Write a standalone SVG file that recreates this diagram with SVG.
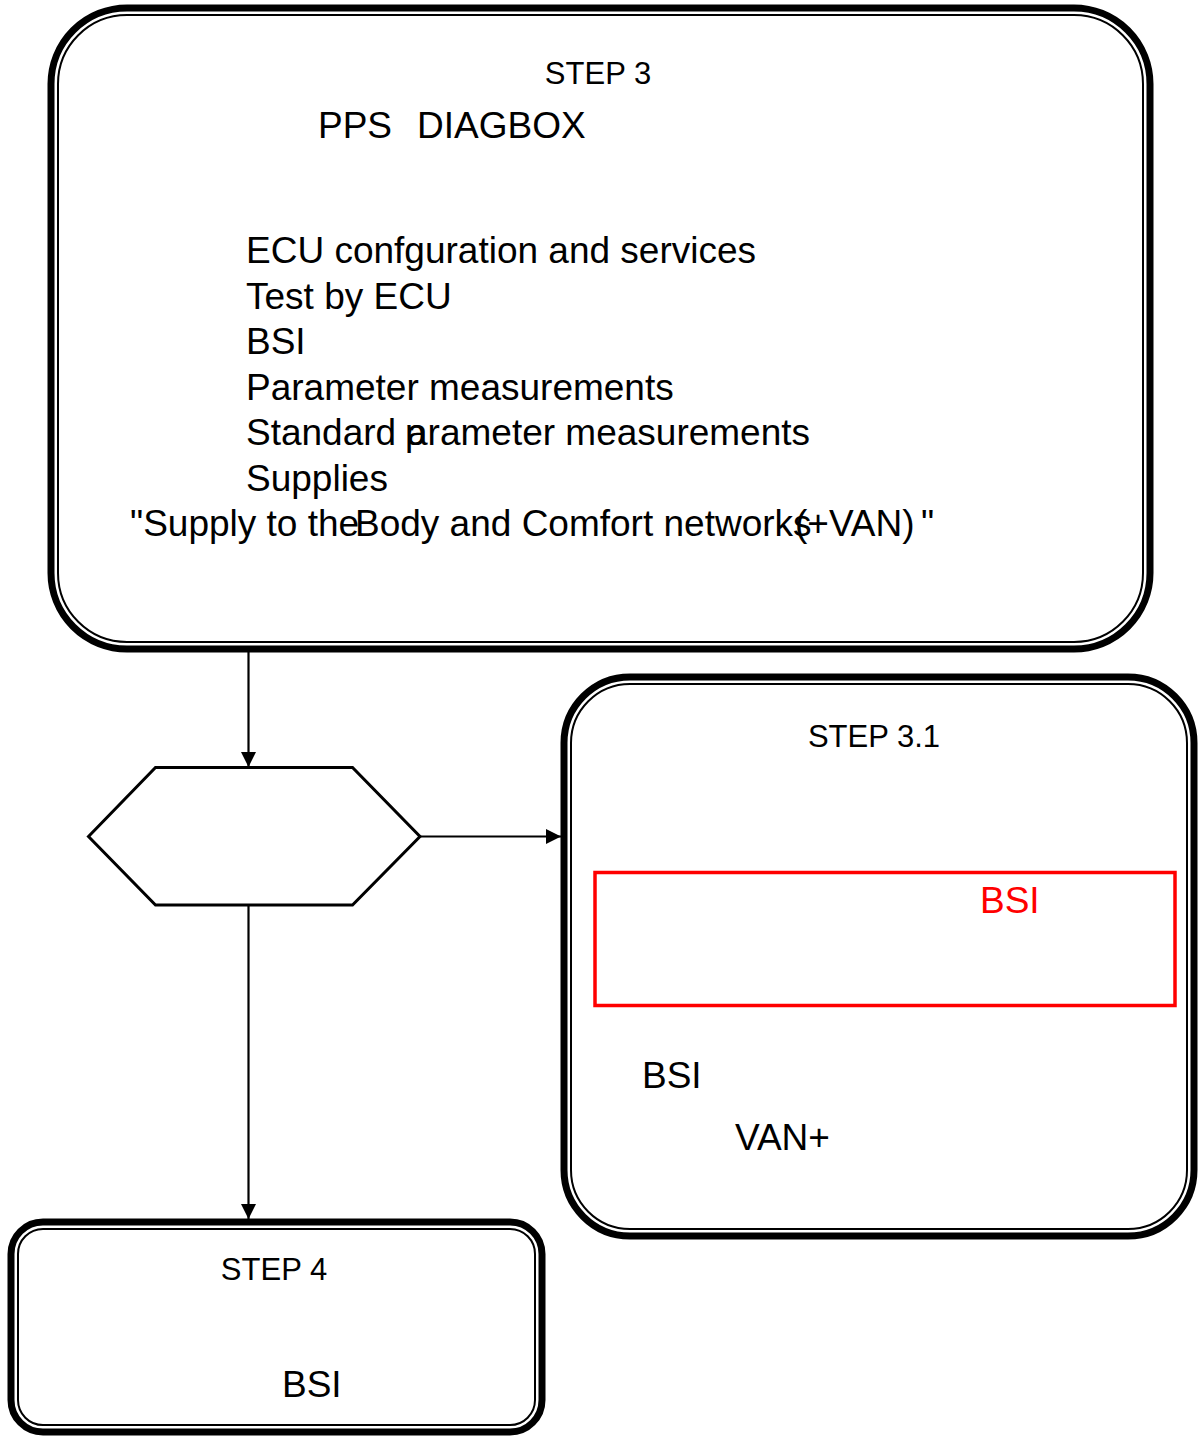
<svg xmlns="http://www.w3.org/2000/svg" width="1198" height="1438" viewBox="0 0 1198 1438">
<style>
.outer{fill:none;stroke:#000;stroke-width:7}
.inner{fill:none;stroke:#000;stroke-width:2}
.t{font-family:"Liberation Sans",Arial,sans-serif;fill:#000}
.step{font-size:31px}
.body{font-size:37px}
.conn{fill:none;stroke:#000;stroke-width:2.2}
</style>
<defs>
<marker id="arr" viewBox="0 0 10 10" refX="10" refY="5" markerWidth="15" markerHeight="15" markerUnits="userSpaceOnUse" orient="auto">
<path d="M0,0 L10,5 L0,10 Z" fill="#000"/>
</marker>
</defs>
<rect width="1198" height="1438" fill="#fff"/>
<g id="connectors">
<line class="conn" x1="248.5" y1="652" x2="248.5" y2="767" marker-end="url(#arr)"/>
<line class="conn" x1="420" y1="836.5" x2="561" y2="836.5" marker-end="url(#arr)"/>
<line class="conn" x1="248.5" y1="905" x2="248.5" y2="1219" marker-end="url(#arr)"/>
</g>
<g id="step3">
<rect class="outer" x="51" y="8" width="1099" height="641" rx="76" ry="76"/>
<rect class="inner" x="58" y="15" width="1085" height="627" rx="69" ry="69"/>
<text class="t step" x="598" y="84" text-anchor="middle">STEP 3</text>
<text class="t body" x="318" y="138">PPS</text>
<text class="t body" x="417" y="138">DIAGBOX</text>
<text class="t body" x="246" y="263">ECU confguration and services</text>
<text class="t body" x="246" y="309">Test by ECU</text>
<text class="t body" x="246" y="354">BSI</text>
<text class="t body" x="246" y="400">Parameter measurements</text>
<text class="t body" x="246" y="445">Standard</text>
<text class="t body" x="405" y="445">p</text>
<text class="t body" x="407" y="445">arameter measurements</text>
<text class="t body" x="246" y="491">Supplies</text>
<text class="t body" x="130" y="536">"Supply to the</text>
<text class="t body" x="355" y="536">Body and Comfort networks</text>
<text class="t body" x="795" y="536">(+VAN)</text>
<text class="t body" x="921" y="536">"</text>
</g>
<g id="decision">
<polygon points="88.5,836.5 155.5,767.5 352.5,767.5 420,836.5 352.5,905 155.5,905" fill="#fff" stroke="#000" stroke-width="3"/>
</g>
<g id="step31">
<rect class="outer" x="564" y="677" width="630" height="559" rx="66" ry="66"/>
<rect class="inner" x="571" y="684" width="616" height="545" rx="59" ry="59"/>
<text class="t step" x="874" y="747" text-anchor="middle">STEP 3.1</text>
<rect x="595" y="872.5" width="580" height="133" fill="none" stroke="#f00" stroke-width="3.5"/>
<text class="t body" x="980" y="913" style="fill:#f00">BSI</text>
<text class="t body" x="642" y="1088">BSI</text>
<text class="t body" x="735" y="1150">VAN+</text>
</g>
<g id="step4">
<rect class="outer" x="11" y="1222" width="531" height="210" rx="32" ry="32"/>
<rect class="inner" x="18" y="1229" width="517" height="196" rx="25" ry="25"/>
<text class="t step" x="274" y="1280" text-anchor="middle">STEP 4</text>
<text class="t body" x="282" y="1397">BSI</text>
</g>
</svg>
